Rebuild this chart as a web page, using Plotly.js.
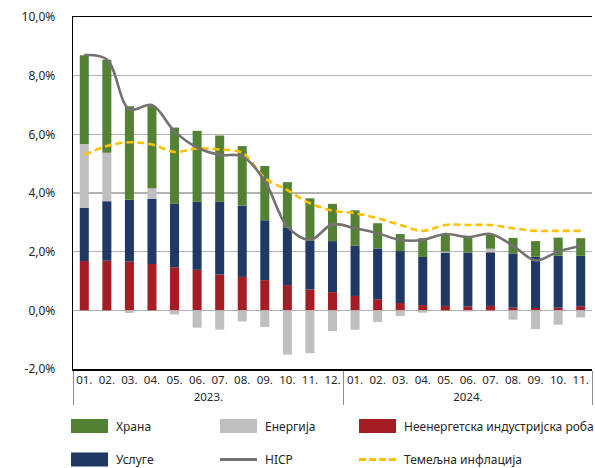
<!DOCTYPE html>
<html>
<head>
<meta charset="utf-8">
<script src="https://cdn.plot.ly/plotly-3.0.1.min.js"></script>
<style>
  html, body { margin: 0; padding: 0; background: #ffffff; }
  #chart { width: 595px; height: 468px; }
</style>
</head>
<body>
<div id="chart"></div>
<script>
// ---- data ----
const months = ['01.','02.','03.','04.','05.','06.','07.','08.','09.','10.','11.','12.',
                '01.','02.','03.','04.','05.','06.','07.','08.','09.','10.','11.'];
const years = ['2023.','2023.','2023.','2023.','2023.','2023.','2023.','2023.','2023.','2023.','2023.','2023.',
               '2024.','2024.','2024.','2024.','2024.','2024.','2024.','2024.','2024.','2024.','2024.'];

const neig     = [1.68, 1.69, 1.66, 1.58, 1.47, 1.38, 1.22, 1.14, 1.03, 0.86, 0.71, 0.62,
                  0.49, 0.38, 0.25, 0.18, 0.15, 0.13, 0.15, 0.09, 0.08, 0.09, 0.14];
const services = [1.82, 2.03, 2.11, 2.22, 2.16, 2.32, 2.48, 2.43, 2.04, 1.97, 1.66, 1.74,
                  1.72, 1.73, 1.77, 1.64, 1.82, 1.84, 1.83, 1.85, 1.75, 1.77, 1.72];
const energy   = [2.17, 1.65, -0.09, 0.36, -0.14, -0.59, -0.66, -0.38, -0.57, -1.51, -1.46, -0.71,
                  -0.66, -0.40, -0.19, -0.08, 0.03, -0.04, 0.12, -0.32, -0.64, -0.49, -0.24];
const food     = [3.03, 3.17, 3.19, 2.80, 2.60, 2.42, 2.26, 2.03, 1.85, 1.54, 1.45, 1.27,
                  1.20, 0.86, 0.58, 0.64, 0.58, 0.51, 0.50, 0.53, 0.53, 0.62, 0.60];
const hicp     = [8.70, 8.55, 6.85, 7.00, 6.10, 5.55, 5.30, 5.25, 4.40, 2.85, 2.40, 2.93,
                  2.80, 2.63, 2.40, 2.40, 2.60, 2.50, 2.60, 2.20, 1.70, 2.00, 2.20];
const core     = [5.30, 5.60, 5.73, 5.65, 5.40, 5.52, 5.48, 5.37, 4.51, 4.10, 3.65, 3.40,
                  3.31, 3.14, 2.91, 2.71, 2.91, 2.91, 2.91, 2.80, 2.71, 2.71, 2.71];

const seriesNames = ['Храна', 'Енергија', 'Неенергетска индустријска роба', 'Услуге', 'HICP', 'Темељна инфлација'];
const yTicks = [-2, 0, 2, 4, 6, 8, 10];
const yTickText = yTicks.map(v => v.toFixed(1).replace('.', ',') + '%');

// ---- styles ----
const C = {
  food: '#548235', energy: '#bfbfbf', neig: '#a51d24', services: '#1f3864',
  hicp: '#767171', core: '#ffc000', text: '#262626', grid: '#b2b2b2'
};
const FONT = 'Noto Sans, Open Sans, sans-serif';
const x = [years, months];

function bar(name, y, color) {
  return { type: 'bar', name: name, x: x, y: y, marker: { color: color, line: { width: 0 } },
           showlegend: false, hoverinfo: 'skip' };
}

const traces = [
  bar(seriesNames[2], neig, C.neig),
  bar(seriesNames[3], services, C.services),
  bar(seriesNames[1], energy, C.energy),
  bar(seriesNames[0], food, C.food),
  { type: 'scatter', mode: 'lines', name: seriesNames[5], x: x, y: core,
    line: { color: C.core, width: 2.6, dash: '7px,4px', shape: 'spline', smoothing: 1 },
    showlegend: false, hoverinfo: 'skip' },
  { type: 'scatter', mode: 'lines', name: seriesNames[4], x: x, y: hicp,
    line: { color: C.hicp, width: 2.6, shape: 'spline', smoothing: 1 },
    showlegend: false, hoverinfo: 'skip' }
];

// ---- plot geometry (pixels) ----
const W = 595, H = 468;
const M = { l: 73, r: 3, t: 17, b: 99 };
const pw = W - M.l - M.r, ph = H - M.t - M.b;
const px = v => (v - M.l) / pw;
const py = v => (H - M.b - v) / ph;

// ---- custom legend ----
const legendItems = [
  { name: seriesNames[0], kind: 'rect', color: C.food,     x0: 71,  y: 426 },
  { name: seriesNames[1], kind: 'rect', color: C.energy,   x0: 220, y: 426 },
  { name: seriesNames[2], kind: 'rect', color: C.neig,     x0: 359, y: 426 },
  { name: seriesNames[3], kind: 'rect', color: C.services, x0: 71,  y: 459.5 },
  { name: seriesNames[4], kind: 'line', color: C.hicp,     x0: 220, y: 459.5 },
  { name: seriesNames[5], kind: 'dash', color: C.core,     x0: 359, y: 459.5 }
];
const shapes = [];
const annotations = [];
legendItems.forEach(it => {
  const x1 = it.x0 + 37;
  if (it.kind === 'rect') {
    shapes.push({ type: 'rect', xref: 'paper', yref: 'paper',
      x0: px(it.x0), x1: px(x1), y0: py(it.y - 7), y1: py(it.y + 7),
      fillcolor: it.color, line: { width: 0 } });
  } else {
    shapes.push({ type: 'line', xref: 'paper', yref: 'paper',
      x0: px(it.x0), x1: px(x1), y0: py(it.y), y1: py(it.y),
      line: { color: it.color, width: 3, dash: it.kind === 'dash' ? '7px,3px' : 'solid' } });
  }
  annotations.push({ xref: 'paper', yref: 'paper', x: px(x1 + 5.5), y: py(it.y),
    xanchor: 'left', yanchor: 'middle', showarrow: false, text: it.name,
    font: { family: FONT, size: 12, color: C.text } });
});

const layout = {
  width: W, height: H,
  margin: M,
  paper_bgcolor: '#ffffff', plot_bgcolor: '#ffffff',
  barmode: 'relative', bargap: 0.6,
  showlegend: false,
  font: { family: FONT, size: 11.5, color: C.text },
  xaxis: {
    type: 'multicategory', tickangle: 0,
    showline: true, linecolor: '#000000', linewidth: 1.5, mirror: true,
    showgrid: false, ticks: '', showdividers: true, dividercolor: '#8c8c8c', dividerwidth: 1,
    tickfont: { family: FONT, size: 11.5, color: C.text }
  },
  yaxis: {
    range: [-2, 10], tickmode: 'array', tickvals: yTicks, ticktext: yTickText,
    showline: true, linecolor: '#000000', linewidth: 1.3,
    showgrid: true, gridcolor: C.grid, gridwidth: 1.2, zeroline: false,
    ticks: '', ticklabelstandoff: 14,
    tickfont: { family: FONT, size: 12, color: C.text }
  },
  shapes: shapes,
  annotations: annotations
};

Plotly.newPlot('chart', traces, layout, { staticPlot: true, displayModeBar: false });
</script>
</body>
</html>
